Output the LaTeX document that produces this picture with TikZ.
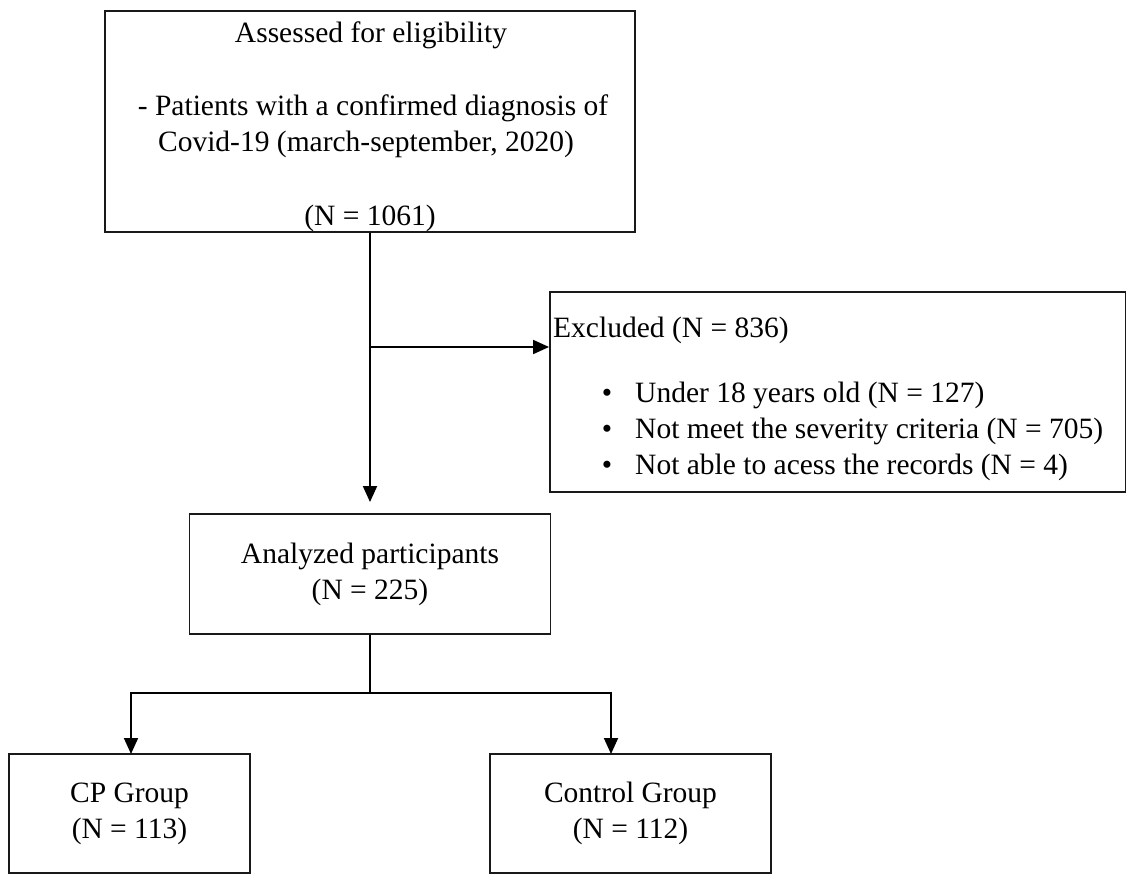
\documentclass[tikz,border=0pt]{standalone}
\usepackage{fontspec}
\setmainfont{Liberation Serif}
\usetikzlibrary{arrows.meta}
\begin{document}
\begin{tikzpicture}[x=1pt,y=-1pt,
  box/.style={draw=black!90, line width=1.9pt, inner sep=0pt, align=center, font=\fontsize{29.5}{36}\selectfont},
  txt/.style={font=\fontsize{29.5}{36}\selectfont, inner sep=0pt, anchor=base},
  conn/.style={line width=1.8pt, draw=black},
  arr/.style={conn, -{Triangle[length=16pt,width=14pt]}}]
\useasboundingbox (0,0) rectangle (1127,875);

% boxes
\node[box, minimum width=530, minimum height=221] (assess) at (370,121.5) {};
\node[box, minimum width=575.5, minimum height=200] (excl) at (837.75,392) {};
\node[box, minimum width=361, minimum height=120] (anal) at (370,574) {Analyzed participants\\(N = 225)};
\node[box, minimum width=241, minimum height=119] (cp) at (129.5,813.5) {CP Group\\(N = 113)};
\node[box, minimum width=281, minimum height=119] (ctrl) at (630.5,813.5) {Control Group\\(N = 112)};

% texts of the first box
\node[txt] (t1) at (371,43) {Assessed for eligibility};
\node[txt] (t2) at (373,115) {- Patients with a confirmed diagnosis of};
\node[txt] (t3) at (366,151.5) {Covid-19 (march-september, 2020)};
\node[txt] (t4) at (370,225) {(N = 1061)};

% texts of the excluded box
\node[txt, anchor=base west] (e0) at (553,337) {Excluded (N = 836)};
\node[txt] (b1) at (607,402) {\textbullet};
\node[txt] (b2) at (607,438) {\textbullet};
\node[txt] (b3) at (607,474) {\textbullet};
\node[txt, anchor=base west] (e1) at (635,402) {Under 18 years old (N = 127)};
\node[txt, anchor=base west] (e2) at (635,438) {Not meet the severity criteria (N = 705)};
\node[txt, anchor=base west] (e3) at (635,474) {Not able to acess the records (N = 4)};

% connectors
\coordinate (j) at (370,347);
\draw[arr, shorten >=11pt] (assess.south) -- (assess.south |- anal.north);
\draw[arr] (j) -- (j -| excl.west);
\coordinate (split) at (370,693);
\coordinate (cptop) at (131,754);
\coordinate (cttop) at (611,754);
\draw[conn] (anal.south) -- (split);
\draw[arr] (split) -| (cptop);
\draw[arr] (split) -| (cttop);
\end{tikzpicture}
\end{document}
